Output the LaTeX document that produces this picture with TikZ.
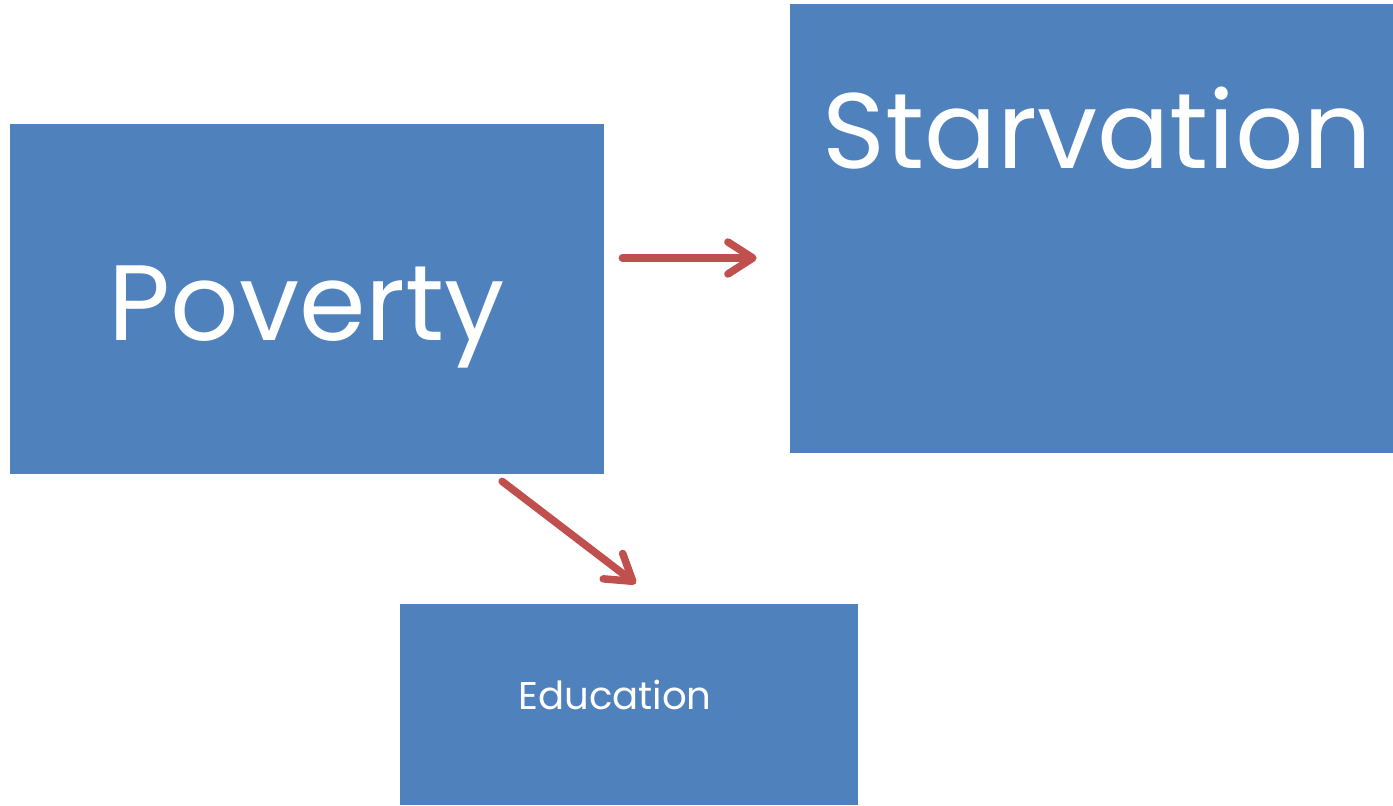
\documentclass[tikz,border=0pt]{standalone}
\usepackage{fontspec}
\setmainfont{Poppins}
\usepackage{tikz}
\usetikzlibrary{arrows.meta}
\definecolor{boxblue}{HTML}{4F81BD}
\definecolor{arrowred}{HTML}{C0504D}
\begin{document}
\begin{tikzpicture}
\tikzstyle{box}=[rectangle, fill=boxblue, draw=none, inner sep=0pt, text=white]
\tikzstyle{link}=[draw=arrowred, line width=0.15cm, line cap=round,
                  -{Straight Barb[length=0.5cm, width=0.64cm, line cap=round, line join=round]}]
\useasboundingbox (0,0) rectangle (27.86,-16.1);
\node[box, minimum width=11.88cm, minimum height=7cm] (pov) at (6.14,-5.98)
      {\fontsize{61}{70}\selectfont\raisebox{-0.82cm}[0pt][0pt]{Poverty}};
\node[box, minimum width=12.06cm, minimum height=8.98cm] (starv) at (21.83,-4.57) {};
\node[text=white, inner sep=0pt] (starvlabel) at ([xshift=0.12cm,yshift=-2.5cm]starv.north)
      {\fontsize{61}{70}\selectfont Starvation};
\node[box, minimum width=9.16cm, minimum height=4.02cm] (edu) at (12.58,-14.09) {};
\node[text=white, inner sep=0pt] (edulabel) at (12.3,-13.9)
      {\fontsize{22}{26}\selectfont Education};
% arrows
\draw[link, shorten <=0.36cm, shorten >=0.66cm]
      ([yshift=0.82cm]pov.east) -- ([yshift=0.82cm]pov.east -| starv.west);
\draw[link, shorten <=0.23cm, shorten >=0.66cm]
      ([xshift=3.72cm]pov.south) -- ([xshift=0.66cm]edu.north);
\end{tikzpicture}
\end{document}
